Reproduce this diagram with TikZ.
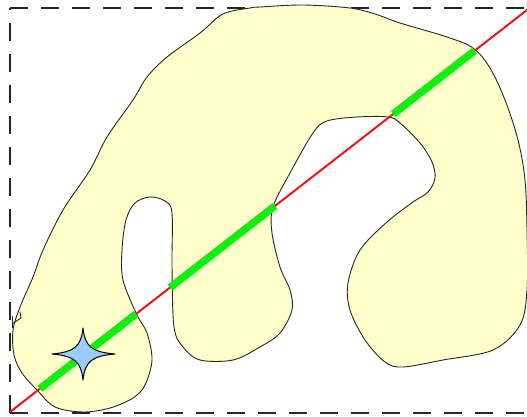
\documentclass[tikz,border=0pt]{standalone}
\usetikzlibrary{calc}
\definecolor{blobfill}{HTML}{FFFFCC}
\definecolor{cutred}{HTML}{EE1515}
\definecolor{segreen}{HTML}{11EE11}
\definecolor{starblue}{HTML}{99CCFF}
\tikzset{
  blob/.style={fill=blobfill, draw=black!85, line width=0.9pt},
  frame/.style={draw=black!85, line width=1.3pt, dash pattern=on 18pt off 13pt},
  cutline/.style={draw=cutred, line width=2pt},
  inside/.style={draw=segreen, line width=7.5pt, line cap=butt},
  starshape/.style={fill=starblue, draw=black, line width=1pt, line join=round}
}
\begin{document}
\begin{tikzpicture}[x=1pt,y=-1pt]
\useasboundingbox (0,0) rectangle (527,417);
\clip (0,0) rectangle (527,417);
% dashed frame
\draw[frame] (10,8) -- (545,8);
\draw[frame] (10,413) -- (545,413);
\draw[frame] (10,413) -- (10,8);
% shape
\path[blob] plot[smooth cycle, tension=0.55] coordinates {
 (260,7) (303,5) (350,8) (375,14) (400,23) (447,37) (473,48) (490,68) (505,100)
 (518,140) (525,180) (527,230) (527,290) (520,325) (493,350) (443,360) (403,367)
 (385,362) (365,340) (350,310) (348,283) (360,250) (387,222) (413,202) (428,192)
 (435,178) (432,162) (420,143) (400,123) (388,117) (357,117) (327,121) (313,133)
 (290,173) (273,207) (272,233) (280,267) (290,290) (292,310) (280,333) (260,347)
 (233,360) (200,360) (183,347) (174,327) (172,267) (172,213) (165,201) (150,197)
 (135,203) (126,220) (122,250) (123,280) (137,315) (147,333) (152,360) (145,385)
 (133,398) (110,408) (83,412) (55,407) (37,390) (22,373) (14,355) (13,330)
 (20,307) (33,277) (43,250) (63,210) (90,170) (107,137) (133,100) (147,77)
 (167,57) (200,33) (223,14) (250,8)};
% small kink on the left edge
\draw[black!85, line width=0.9pt] (12,316) -- (12,328);
\draw[black!85, line width=0.9pt] (12,324) -- (21,318) -- (20,312);
% cutting line
\coordinate (lineA) at (10,412);
\coordinate (lineB) at (527,10);
\draw[cutline] (lineA) -- ($(lineA)!1.05!(lineB)$);
% segments inside the shape
\draw[inside] ($(lineA)!0.058!(lineB)$) -- ($(lineA)!0.2437!(lineB)$);
\draw[inside] ($(lineA)!0.3095!(lineB)$) -- ($(lineA)!0.5126!(lineB)$);
\draw[inside] ($(lineA)!0.741!(lineB)$) -- ($(lineA)!0.899!(lineB)$);
% star
\begin{scope}[shift={(83,354)}]
\path[starshape] (0,-26) .. controls (2,-8) and (8,-2) .. (32,0)
  .. controls (8,2) and (2,8) .. (0,26)
  .. controls (-2,8) and (-8,2) .. (-31,0)
  .. controls (-8,-2) and (-2,-8) .. (0,-26) -- cycle;
\end{scope}
\end{tikzpicture}
\end{document}
